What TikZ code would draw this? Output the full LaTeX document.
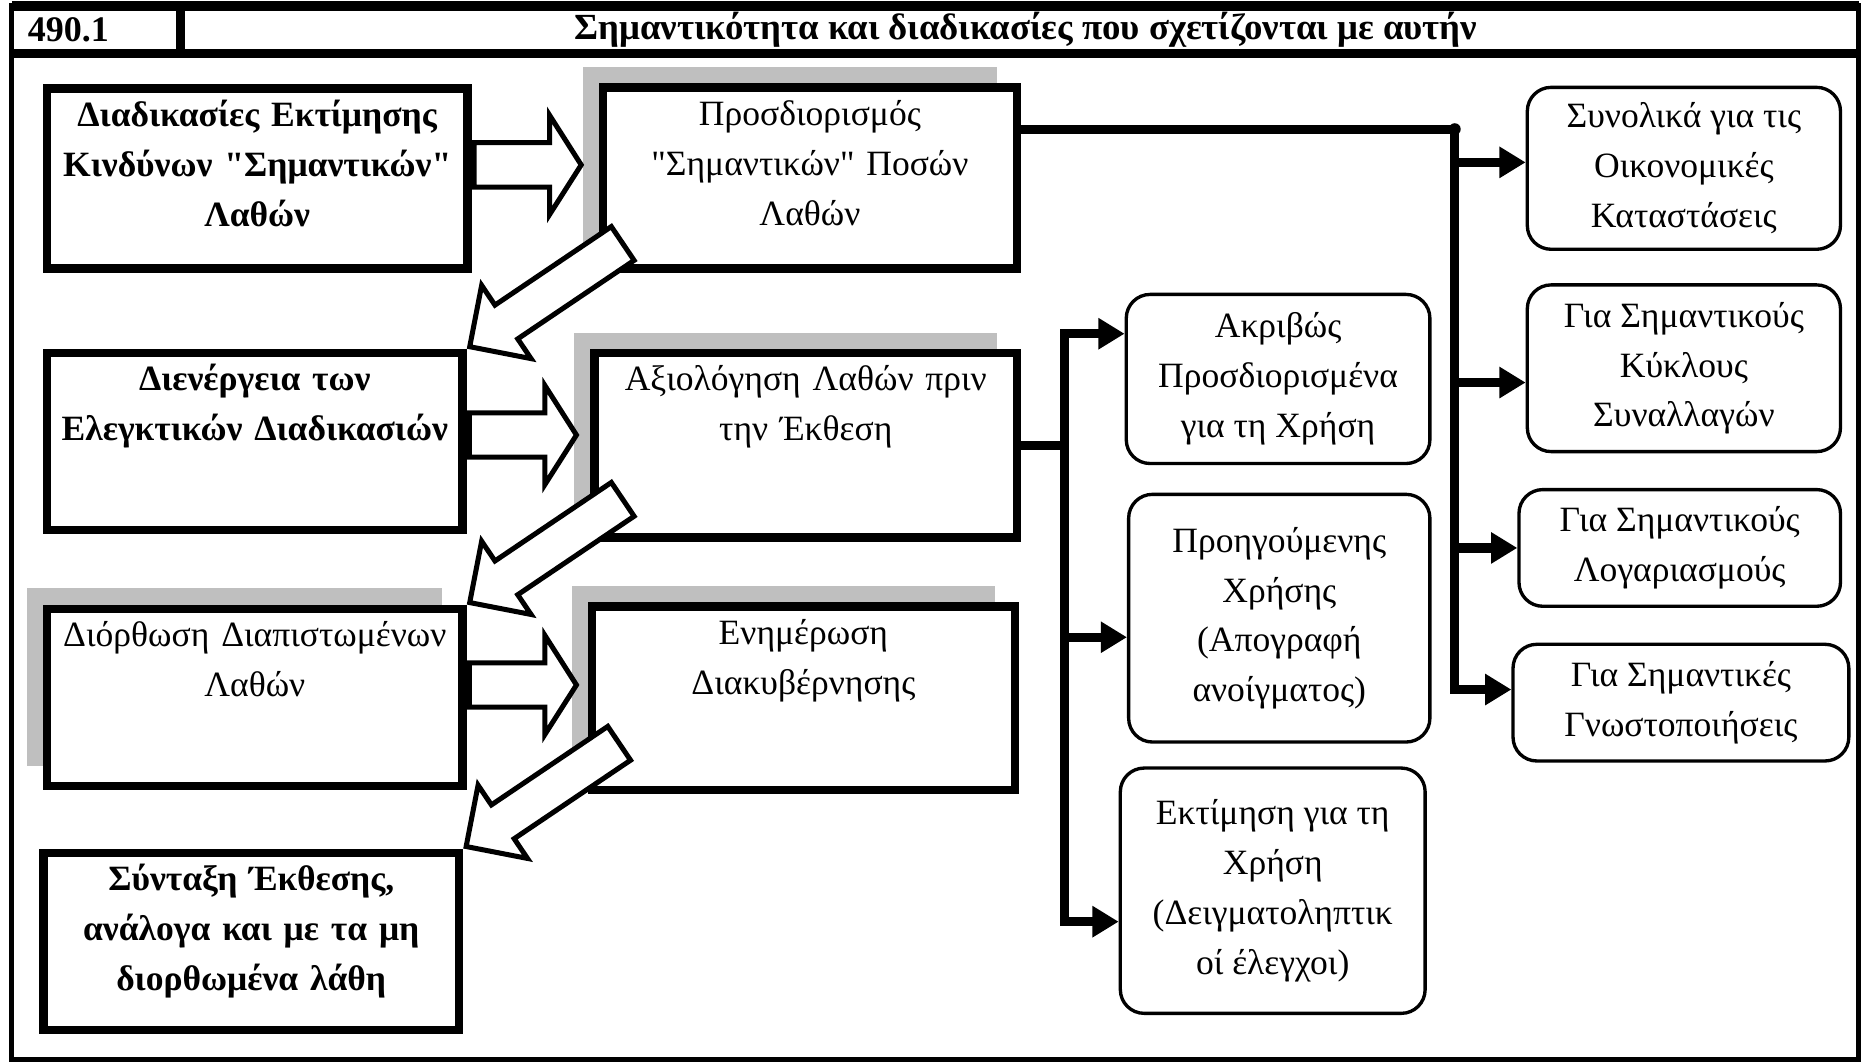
\documentclass[tikz,border=0pt]{standalone}
\usepackage{fontspec}
\setmainfont{Liberation Serif}
\usetikzlibrary{positioning, calc}
\usetikzlibrary{shapes.arrows}
\usetikzlibrary{shadows}
\usetikzlibrary{arrows.meta}
\newcommand{\boxfont}{\fontsize{8.5}{11.9}\selectfont}
\tikzset{
	stepbox/.style={draw, rectangle, line width=2pt, fill=white, anchor=north west, align=center, inner xsep=0pt, inner ysep=0pt, text height=0.32cm},
	heavy/.style={font=\boxfont\bfseries},
	grayshadow/.style={drop shadow={shadow xshift=-0.17cm, shadow yshift=0.17cm, fill=black!25, opacity=1}},
	% rounded boxes on the right
	kindbox/.style={draw, rectangle, rounded corners=0.2cm, line width=0.8pt, fill=white, anchor=north west, align=center, inner sep=0pt},
	hollow/.style={draw, single arrow, fill=white, line width=1.2pt, inner xsep=0pt, minimum width=1pt},
	flatarrow/.style={hollow, single arrow head extend=0.23cm, inner ysep=0.165cm, single arrow tip angle=115, minimum height=0.9cm, anchor=tail},
	slantarrow/.style={hollow, single arrow head extend=0.2cm, inner ysep=0.15cm, single arrow tip angle=90, minimum height=1.55cm, rotate=214, anchor=tip},
	link/.style={line width=2.2pt, >={Triangle[length=0.22cm, width=0.25cm]}},
}
\begin{document}
\begin{tikzpicture}[x=0.01cm, y=-0.01cm, font=\boxfont]
	\useasboundingbox (0,0) rectangle (1568,894);
	
	\draw[line width=1.2pt] (10,5) rectangle (1562,890);
	\draw[line width=2.2pt] (10,5) -- (1562,5) (10,45) -- (1562,45) (152,5) -- (152,45);
	\node (num) [anchor=west, font=\fontsize{8.6}{11}\selectfont\bfseries] at (11,25) {490.1};
	\node (title) [font=\fontsize{8.8}{11}\selectfont\bfseries] at (862,25) {Σημαντικότητα και διαδικασίες που σχετίζονται με αυτήν};
	
	\node (l1) [stepbox, heavy, text width=3.53cm, text depth=1.19cm] at (36,71) {Διαδικασίες Εκτίμησης\\ Κινδύνων \textquotedbl Σημαντικών\textquotedbl\\ Λαθών};
	\node (l2) [stepbox, heavy, text width=3.49cm, text depth=1.17cm] at (36,293) {Διενέργεια των\\ Ελεγκτικών Διαδικασιών};
	\node (l3) [stepbox, grayshadow, text width=3.49cm, text depth=1.17cm] at (36,508) {Διόρθωση Διαπιστωμένων\\ Λαθών};
	\node (l4) [stepbox, heavy, text width=3.49cm, text depth=1.17cm] at (33,713) {Σύνταξη Έκθεσης,\\ ανάλογα και με τα μη\\ διορθωμένα λάθη};
	
	\node (m1) [stepbox, grayshadow, text width=3.48cm, text depth=1.20cm] at (503,70) {Προσδιορισμός\\ \textquotedbl Σημαντικών\textquotedbl\ Ποσών\\ Λαθών};
	\node (m2) [stepbox, grayshadow, text width=3.55cm, text depth=1.23cm] at (496,293) {Αξιολόγηση Λαθών πριν\\ την Έκθεση};
	\node (m3) [stepbox, grayshadow, text width=3.55cm, text depth=1.22cm] at (494,506) {Ενημέρωση\\ Διακυβέρνησης};
	
	\node (r1) [kindbox, minimum width=2.55cm, minimum height=1.42cm] at (945,246) {Ακριβώς\\ Προσδιορισμένα\\ για τη Χρήση};
	\node (r2) [kindbox, minimum width=2.53cm, minimum height=2.08cm] at (947,414) {Προηγούμενης\\ Χρήσης\\ (Απογραφή\\ ανοίγματος)};
	\node (r3) [kindbox, minimum width=2.56cm, minimum height=2.06cm] at (940,644) {Εκτίμηση για τη\\ Χρήση\\ (Δειγματοληπτικ\\ οί έλεγχοι)};
	
	\node (fr1) [kindbox, minimum width=2.63cm, minimum height=1.36cm] at (1282,72) {Συνολικά για τις\\ Οικονομικές\\ Καταστάσεις};
	\node (fr2) [kindbox, minimum width=2.63cm, minimum height=1.40cm] at (1282,238) {Για Σημαντικούς\\ Κύκλους\\ Συναλλαγών};
	\node (fr3) [kindbox, minimum width=2.70cm, minimum height=0.98cm] at (1275,410) {Για Σημαντικούς\\ Λογαριασμούς};
	\node (fr4) [kindbox, minimum width=2.82cm, minimum height=0.98cm] at (1270,540) {Για Σημαντικές\\ Γνωστοποιήσεις};
	
	% block arrows between the steps
	\node (a1) [flatarrow] at ([yshift=0.115cm]l1.east) {};
	\node (a2) [flatarrow] at ([yshift=0.055cm]l2.east) {};
	\node (a3) [flatarrow] at ([yshift=0.105cm]l3.east) {};
	\node (d1) [slantarrow] at (l2.north east) {};
	\node (d2) [slantarrow] at (l3.north east) {};
	\node (d3) [slantarrow] at (l4.north east) {};
	
	\path ([yshift=0.41cm]m1.east) ++(3.64cm,0) coordinate (t1);
	\path (m2.east) ++(0.36cm,0) coordinate (k);
	\begin{scope}[link]
		\draw[->] ([yshift=0.41cm]m1.east) -- (t1) |- ([yshift=0.11cm]fr4.west);
		\draw[<-] ([yshift=0.05cm]fr1.west) -| (t1);
		\draw[<-] ([yshift=-0.12cm]fr2.west) -| (t1);
		\draw[<-] (fr3.west) -| (t1);
		\draw (m2.east) -- (k);
		\draw[<->] ([yshift=0.38cm]r1.west) -| (k) |- ([yshift=-0.26cm]r3.west);
		\draw[<-] ([yshift=-0.16cm]r2.west) -| (k);
	\end{scope}
	\fill (t1) circle (0.05cm);
	
\end{tikzpicture}
\end{document}
